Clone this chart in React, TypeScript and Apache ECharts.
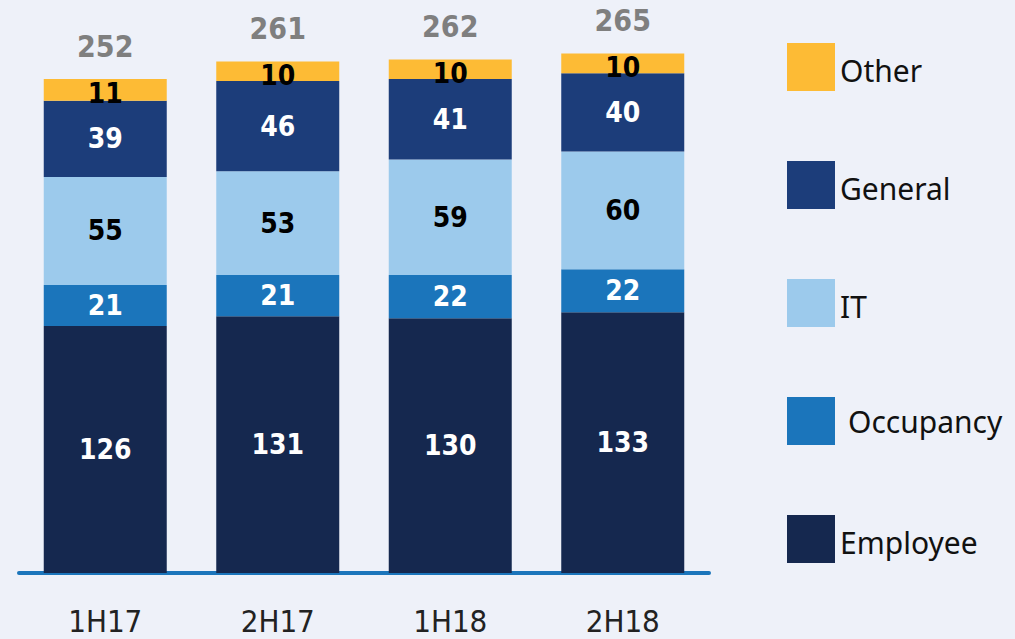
import React, { useEffect, useRef } from "react";
import * as echarts from "echarts";

const categories = ["1H17", "2H17", "1H18", "2H18"];
const employee = [126, 131, 130, 133];
const occupancy = [21, 21, 22, 22];
const it = [55, 53, 59, 60];
const general = [39, 46, 41, 40];
const other = [11, 10, 10, 10];
const totals = [252, 261, 262, 265];

const COND = "'DejaVu Sans Condensed', 'DejaVu Sans', sans-serif";
const LEG = "'Noto Sans', Lato, sans-serif";

export default function App() {
  const ref = useRef<HTMLDivElement>(null);
  useEffect(() => {
    document.body.style.margin = "0";
    const chart = echarts.init(ref.current!, null, { renderer: "svg" });
    const segLabel = (color: string, offsetY = 0) => ({
      show: true,
      position: "inside",
      color,
      fontFamily: COND,
      fontWeight: "bold",
      fontSize: 28,
      offset: [0, offsetY],
    });
    const mk = (name: string, data: number[], color: string, labelColor: string, offY = 0) => ({
      name,
      type: "bar",
      stack: "s",
      data,
      barWidth: 123,
      itemStyle: { color },
      label: segLabel(labelColor, offY),
    });
    chart.setOption({
      animation: false,
      backgroundColor: "#EEF1F9",
      grid: { left: 19, right: 306, top: 24.2, bottom: 66 },
      xAxis: {
        type: "category",
        data: categories,
        axisLine: { show: true, lineStyle: { color: "#1B75BB", width: 4 } },
        axisTick: { show: false },
        axisLabel: {
          color: "#222",
          fontFamily: COND,
          fontSize: 31,
          margin: 32,
        },
      },
      yAxis: {
        type: "value",
        min: 0,
        max: 280,
        show: false,
        splitLine: { show: false },
      },
      legend: {
        orient: "vertical",
        left: 782,
        top: 38,
        itemWidth: 48,
        itemHeight: 48,
        itemGap: 70,
        icon: "rect",
        data: ["Other", "General", "IT", "Occupancy", "Employee"],
        formatter: (n: string) => (n === "Occupancy" ? "{o|Occupancy}" : "{t|" + n + "}"),
        textStyle: {
          color: "#111",
          fontFamily: LEG,
          fontSize: 30,
          rich: {
            t: { fontSize: 30, fontFamily: LEG, color: "#111", padding: [6, 0, 0, 0] },
            o: { fontSize: 30, fontFamily: LEG, color: "#111", padding: [0, 0, 0, 8] },
          },
        },
      },
      series: [
        mk("Employee", employee, "#15284F", "#fff"),
        mk("Occupancy", occupancy, "#1B75BB", "#fff"),
        mk("IT", it, "#9CCAEC", "#000"),
        mk("General", general, "#1C3D7A", "#fff"),
        mk("Other", other, "#FDBB35", "#000", 4),
        {
          name: "Total",
          type: "bar",
          stack: "s",
          data: totals.map(() => 0),
          barWidth: 123,
          itemStyle: { color: "transparent" },
          label: {
            show: true,
            position: "top",
            distance: 18,
            color: "#7F7F7F",
            fontFamily: COND,
            fontWeight: "bold",
            fontSize: 30,
            formatter: (p: any) => String(totals[p.dataIndex]),
          },
        },
      ],
    });
    return () => chart.dispose();
  }, []);
  return (
    <div
      ref={ref}
      style={{ position: "absolute", left: 0, top: 0, width: 1015, height: 639, background: "#EEF1F9" }}
    />
  );
}
